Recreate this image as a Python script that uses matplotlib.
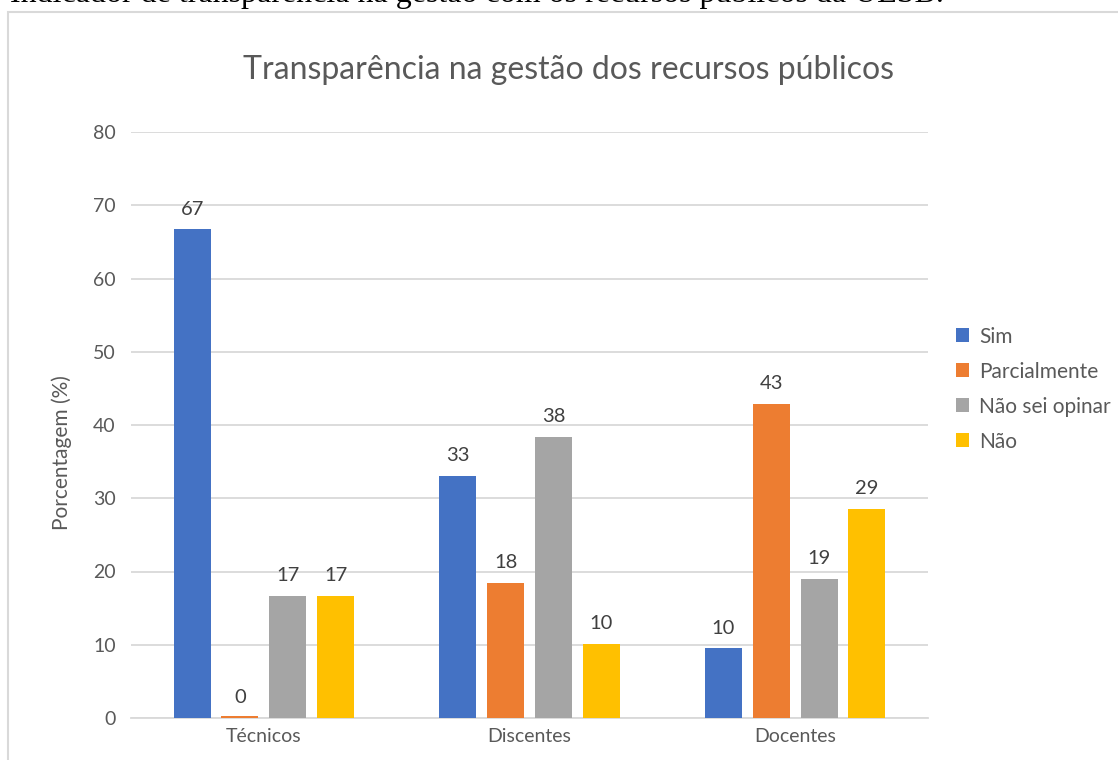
import matplotlib
matplotlib.use("Agg")
import matplotlib.pyplot as plt
import numpy as np
from matplotlib.patches import Rectangle

categories = ["Técnicos", "Discentes", "Docentes"]
series = ["Sim", "Parcialmente", "Não sei opinar", "Não"]
colors = ["#4472C4", "#ED7D31", "#A5A5A5", "#FFC000"]
sim = [66.7, 33.1, 9.5]
parcialmente = [0.0, 18.4, 42.9]
nao_sei = [16.7, 38.4, 19.0]
nao = [16.7, 10.1, 28.6]
values = [sim, parcialmente, nao_sei, nao]
yticks = [0, 10, 20, 30, 40, 50, 60, 70, 80]

FONT = "Lato"
TXT = "#595959"
W, H = 1118, 760

fig = plt.figure(figsize=(W / 100, H / 100), dpi=100)
# clipped caption line from the page above the chart
fig.text(944 / W, 1 - 2 / H,
         "Indicador de transparência na gestão com os recursos públicos da UESB.",
         ha="right", va="baseline", fontsize=23, family="Liberation Serif", color="black")
# chart frame
fig.patches.append(Rectangle((8 / W, -0.1), 1.2, 1 - 11.5 / H + 0.1, transform=fig.transFigure,
                             fill=False, edgecolor="#d9d9d9", linewidth=1.5))
fig.text(569 / W, 1 - 70 / H, "Transparência na gestão dos recursos públicos",
         ha="center", va="center", fontsize=23, color=TXT, family=FONT)

ax = fig.add_axes([131 / W, 1 - 718 / H, (928 - 131) / W, (718 - 132) / H])
x = np.arange(len(categories))
step = 0.18
width = 0.139
for i, (name, vals, c) in enumerate(zip(series, values, colors)):
    pos = x + (i - 1.5) * step
    h = [v if v > 0 else 0.25 for v in vals]
    ax.bar(pos, h, width, color=c, label=name, zorder=3)
    for p, v in zip(pos, vals):
        ax.text(p, v + 1.6, f"{round(v):.0f}", ha="center", va="bottom",
                fontsize=14.5, color="#404040", family=FONT)

ax.set_xlim(-0.5, 2.5)
ax.set_ylim(0, 80)
ax.set_yticks(yticks)
ax.set_xticks(x)
ax.set_xticklabels(categories)
ax.grid(axis="y", color="#d9d9d9", linewidth=1.3, zorder=0)
for s in ["top", "right", "left"]:
    ax.spines[s].set_visible(False)
ax.spines["bottom"].set_color("#d9d9d9")
ax.spines["bottom"].set_linewidth(1.3)
ax.tick_params(axis="both", length=0, labelsize=14, labelcolor=TXT)
ax.tick_params(axis="y", pad=11)
ax.tick_params(axis="x", pad=7)
for lbl in ax.get_xticklabels() + ax.get_yticklabels():
    lbl.set_family(FONT)
ax.set_ylabel("Porcentagem (%)", fontsize=15, color=TXT, family=FONT)
ax.yaxis.set_label_coords((72 - 131) / 797, (718 - 453) / 586)

leg = ax.legend(loc="center left", bbox_to_anchor=(1.0115, (718 - 389) / 586), frameon=False,
                prop={"family": FONT, "size": 15}, handlelength=0.62, handleheight=0.62,
                handletextpad=0.5, labelspacing=0.72, labelcolor=TXT, borderpad=0.4)

fig.savefig("out.png", dpi=100)
